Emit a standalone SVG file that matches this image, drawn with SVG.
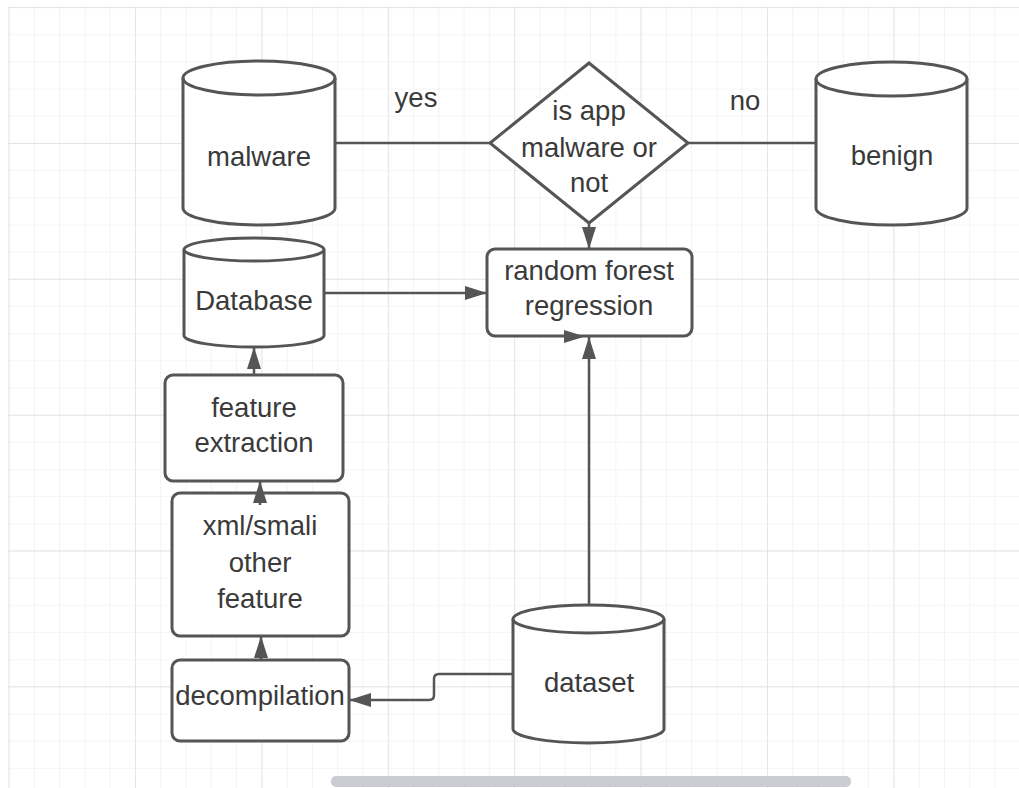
<svg xmlns="http://www.w3.org/2000/svg" width="1019" height="788" viewBox="0 0 1019 788">
<defs>
<pattern id="gmin" patternUnits="userSpaceOnUse" x="8.6" y="7.1" width="25.28" height="27.17">
<path d="M0,0 H25.28 M0,0 V27.17" fill="none" stroke="#ececec" stroke-width="1.2"/>
</pattern>
<pattern id="gmaj" patternUnits="userSpaceOnUse" x="8.6" y="7.1" width="126.4" height="135.85">
<path d="M0,0 H126.4 M0,0 V135.85" fill="none" stroke="#dedede" stroke-width="1.4"/>
</pattern>
<marker id="arr" markerUnits="userSpaceOnUse" markerWidth="24" markerHeight="16" refX="22" refY="7" orient="auto">
<path d="M0,0 L22,7 L0,14 Z" fill="#555"/>
</marker>
<style>
.sh{fill:#fff;stroke:#555;stroke-width:3}
.ln{fill:none;stroke:#555;stroke-width:3}
.c{fill:none;stroke:#555;stroke-width:2.5}
text{font-family:"Liberation Sans",Arial,sans-serif;font-size:27.5px;fill:#3a3a3a;text-anchor:middle}
</style>
</defs>
<rect width="1019" height="788" fill="#fff"/>
<rect x="8" y="7" width="1011" height="781" fill="url(#gmin)"/>
<rect x="8" y="7" width="1011" height="781" fill="url(#gmaj)"/>
<rect x="331" y="776" width="520" height="11" rx="5" fill="#c9ccd1"/>

<g id="malware">
<path class="sh" d="M183,78 A76,17 0 0 1 335,78 V208 A76,17 0 0 1 183,208 Z"/>
<path class="ln" d="M183,78 A76,17 0 0 0 335,78"/>
<text x="259" y="166">malware</text>
</g>
<g id="benign">
<path class="sh" d="M816,79 A75.5,17 0 0 1 967,79 V208 A75.5,17 0 0 1 816,208 Z"/>
<path class="ln" d="M816,79 A75.5,17 0 0 0 967,79"/>
<text x="892" y="165">benign</text>
</g>
<g id="decision">
<path class="sh" d="M589,63 L688,143 L589,223 L490,143 Z"/>
<text x="589" y="120">is app</text>
<text x="589" y="157">malware or</text>
<text x="589" y="192">not</text>
</g>
<g id="database">
<path class="sh" d="M184,249.5 A70,11.5 0 0 1 324,249.5 V335.5 A70,11.5 0 0 1 184,335.5 Z"/>
<path class="ln" d="M184,249.5 A70,11.5 0 0 0 324,249.5"/>
<text x="254" y="310">Database</text>
</g>
<g id="random-forest">
<rect class="sh" x="487" y="249" width="205" height="87" rx="8"/>
<text x="589" y="280">random forest</text>
<text x="589" y="315">regression</text>
</g>
<g id="feature-extraction">
<rect class="sh" x="165" y="375" width="178" height="106" rx="8"/>
<text x="254" y="417">feature</text>
<text x="254" y="452">extraction</text>
</g>
<g id="xml-smali">
<rect class="sh" x="172" y="493" width="177" height="143" rx="8"/>
<text x="260" y="535">xml/smali</text>
<text x="260" y="572">other</text>
<text x="260" y="608">feature</text>
</g>
<g id="decompilation">
<rect class="sh" x="172" y="660" width="177" height="81" rx="8"/>
<text x="260" y="705">decompilation</text>
</g>
<g id="dataset">
<path class="sh" d="M513,619 A75.5,14 0 0 1 664,619 V729 A75.5,14 0 0 1 513,729 Z"/>
<path class="ln" d="M513,619 A75.5,14 0 0 0 664,619"/>
<text x="589" y="692">dataset</text>
</g>

<g id="connectors">
<line class="c" x1="335" y1="143" x2="490" y2="143"/>
<line class="c" x1="688" y1="143" x2="816" y2="143"/>
<text x="416" y="107">yes</text>
<text x="745" y="110">no</text>
<line class="c" x1="589" y1="223" x2="589" y2="249" marker-end="url(#arr)"/>
<line class="c" x1="324" y1="293" x2="487" y2="293" marker-end="url(#arr)"/>
<line class="c" x1="589" y1="605" x2="589" y2="337" marker-end="url(#arr)"/>
<path d="M564,330 L585,336.5 L564,343 Z" fill="#555"/>
<path class="c" d="M513,674 H439 Q434,674 434,679 V695 Q434,700 429,700 H349" marker-end="url(#arr)"/>
<line class="c" x1="261" y1="660" x2="261" y2="636" marker-end="url(#arr)"/>
<line class="c" x1="260" y1="505" x2="260" y2="481" marker-end="url(#arr)"/>
<line class="c" x1="254" y1="375" x2="254" y2="347" marker-end="url(#arr)"/>
</g>
</svg>
